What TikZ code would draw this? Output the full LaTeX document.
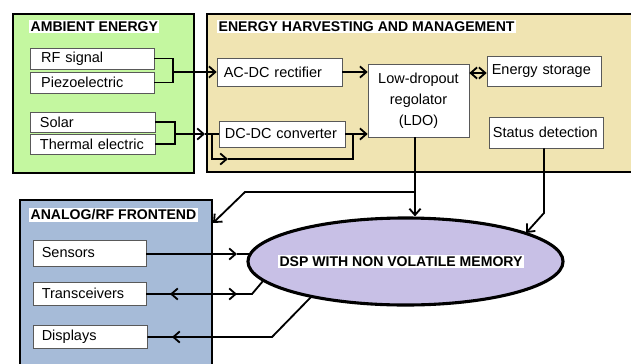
\documentclass[tikz,border=0pt]{standalone}
\usepackage{fontspec}
\setmainfont{Liberation Sans}
\definecolor{ambgreen}{RGB}{196,247,160}
\definecolor{harvtan}{RGB}{240,228,178}
\definecolor{afeblue}{RGB}{166,187,216}
\definecolor{dsplav}{RGB}{200,192,230}
\usetikzlibrary{arrows.meta,positioning,shapes.geometric}

\begin{document}
\begin{tikzpicture}[
  x=0.025cm,y=-0.025cm,
  panel/.style={draw=black,line width=1.5pt,inner sep=0pt},
  ptitle/.style={fill=white,font=\fontsize{10}{12}\selectfont\bfseries,inner sep=1pt,anchor=west},
  entry/.style={draw=black!65,fill=white,font=\fontsize{10.3}{12}\selectfont,align=left,inner ysep=0pt},
  wire/.style={line width=1.3pt},
  arr/.style={wire,-{Straight Barb[length=1.6mm,width=2.8mm]}},
  darr/.style={wire,{Straight Barb[length=1.6mm,width=2.8mm]}-{Straight Barb[length=1.6mm,width=2.8mm]}}
]
  \useasboundingbox (0,0) rectangle (631,363);
  % Panels
  \node[panel,fill=ambgreen,minimum width=4.525cm,minimum height=3.975cm] (ambient) at (103.5,93.5) {};
  \node[panel,fill=harvtan,minimum width=10.825cm,minimum height=3.95cm] (harvest) at (423.5,93) {};
  \node[panel,fill=afeblue,minimum width=4.8cm,minimum height=4.25cm] (analog) at (116,285) {};
  \node[ptitle] at (29,26.5) {AMBIENT ENERGY};
  \node[ptitle] at (217,26.5) {ENERGY HARVESTING AND MANAGEMENT};
  \node[ptitle] at (29,215) {ANALOG/RF FRONTEND};
  % Ambient sources
  \node[entry,inner xsep=0.28cm,text width=2.54cm,minimum height=0.525cm] (rf) at (92,58.5) {RF signal};
  \node[entry,inner xsep=0.28cm,text width=2.54cm,minimum height=0.525cm] (piezo) at (92,82.5) {Piezoelectric};
  \node[entry,inner xsep=0.25cm,text width=2.625cm,minimum height=0.5cm] (solar) at (92.5,122) {Solar};
  \node[entry,inner xsep=0.25cm,text width=2.625cm,minimum height=0.5cm] (thermal) at (92.5,144) {Thermal~electric};
  % Harvesting blocks
  \node[entry,inner xsep=0.17cm,text width=2.785cm,minimum height=0.7cm] (acdc) at (279.5,72) {AC-DC rectifier};
  \node[entry,inner xsep=0.15cm,text width=2.85cm,minimum height=0.65cm] (dcdc) at (282,134) {DC-DC converter};
  \node[entry,align=center,inner xsep=0.1cm,text width=2.325cm,minimum height=1.825cm,
        font=\fontsize{10.3}{15}\selectfont] (ldo) at (418.5,100.5) {Low-dropout\\regolator\\(LDO)};
  \node[entry,inner xsep=0.12cm,text width=2.61cm,minimum height=0.75cm] (store) at (544,71) {Energy storage};
  \node[entry,inner xsep=0.1cm,text width=2.65cm,minimum height=0.775cm] (status) at (546,132.5) {Status detection};
  % Frontend blocks
  \node[entry,inner xsep=0.22cm,text width=2.385cm,minimum height=0.65cm] (sensors) at (89.5,253) {Sensors};
  \node[entry,inner xsep=0.22cm,text width=2.385cm,minimum height=0.575cm] (tcv) at (89.5,293.5) {Transceivers};
  \node[entry,inner xsep=0.22cm,text width=2.41cm,minimum height=0.575cm] (disp) at (90,336.5) {Displays};
  % DSP
  \node[ellipse,draw=black,line width=2.2pt,fill=dsplav,inner sep=0pt,
        minimum width=7.875cm,minimum height=2.175cm] (dsp) at (405.5,261.5) {};
  \node[ptitle,anchor=center] (dsptext) at (401,261.5) {DSP WITH NON VOLATILE MEMORY};
  % Junctions and arrow points
  \coordinate (j1) at (173,72);
  \coordinate (j2) at (175,134);
  \coordinate (m2) at (205,134);
  \coordinate (b1) at (212,134);
  \coordinate (b2) at (228,159);
  \coordinate (b3) at (353,134);
  \coordinate (t1) at (415,192);
  \coordinate (t2) at (245,192);
  \coordinate (a1) at (213,223);
  \coordinate (s1) at (544,213);
  \coordinate (s2) at (526,233);
  \coordinate (e1) at (237,254);
  \coordinate (e2) at (250,254);
  \coordinate (tr0) at (263,281);
  \coordinate (tr1) at (252,294);
  \coordinate (tr2) at (237,294);
  \coordinate (tr3) at (170,294);
  \coordinate (d0) at (312,296);
  \coordinate (d1) at (272,337);
  \coordinate (d2) at (172,337);
  % Connectors
  \draw[wire] (rf.east) -| (j1) |- (piezo.east);
  \draw[arr] (j1) -- (acdc.west);
  \draw[wire] (solar.east) -| (j2) |- (thermal.east);
  \draw[arr] (j2) -- (m2);
  \draw[wire] (m2) -- (dcdc.west);
  \draw[arr] (b1) |- (b2);
  \draw[wire] (b2) -| (b3);
  \draw[arr] (dcdc.east) -- (ldo.west |- dcdc.east);
  \draw[arr] (acdc.east) -- (ldo.west |- acdc.east);
  \draw[darr] (ldo.east |- 0,73) -- (store.west |- 0,73);
  \draw[arr] (t1 |- ldo.south) -- (t1 |- dsp.north);
  \draw[arr] (t1) -- (t2) -- (a1);
  \draw[arr] (s1 |- status.south) -- (s1) -- (s2);
  \draw[arr] (sensors.east |- e1) -- (e1);
  \draw[wire] (e1) -- (e2);
  \draw[wire] (tr0) -- (tr1) -- (tcv.east |- tr1);
  \draw[arr] (tcv.east |- tr1) -- (tr2);
  \draw[arr] (tr1) -- (tr3);
  \draw[wire] (d0) -- (d1) -- (disp.east |- d1);
  \draw[arr] (d1) -- (d2);
\end{tikzpicture}
\end{document}
